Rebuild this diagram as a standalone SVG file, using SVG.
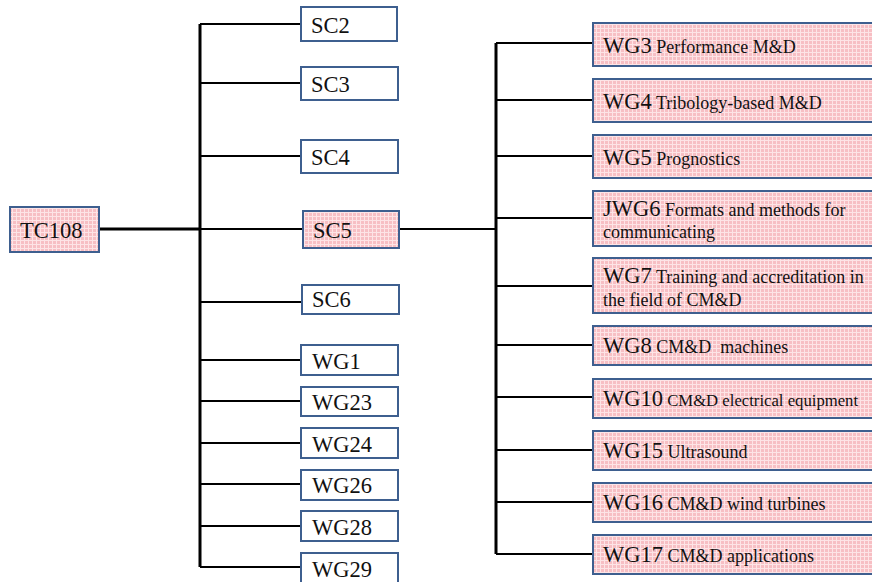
<svg xmlns="http://www.w3.org/2000/svg" width="872" height="582" viewBox="0 0 872 582">
<defs>
<pattern id="grid" width="4" height="4" patternUnits="userSpaceOnUse">
<rect width="4" height="4" fill="#f7bfc4"/>
<path d="M0 0.5H4M0.5 0V4" stroke="#fde4e6" stroke-width="1"/>
</pattern>
</defs>
<style>
.pk{fill:url(#grid);stroke:#3e5f8f;stroke-width:2}
.wh{fill:#fff;stroke:#3e5f8f;stroke-width:2}
.t{font-family:"Liberation Serif","Times New Roman",serif;fill:#111}
.b{font-size:22.5px}
.s{font-size:18px}
.c{stroke:#000;fill:none;stroke-width:2}
.k{stroke:#000;fill:none;stroke-width:3}
</style>
<g id="connectors">
<path class="k" d="M99 229H200"/>
<path class="k" d="M200 24V567"/>
<path class="c" d="M200 24H301M200 83H301M200 156H301M200 229H303M200 302H302M200 360H301M200 401H301M200 443H301M200 484H301M200 526H301M200 567H301"/>
<path class="c" d="M400 229H497"/>
<path class="k" d="M496 43V554"/>
<path class="c" d="M496 43H593M496 100H593M496 156H593M496 218H593M496 286H593M496 345H593M496 397H593M496 450H593M496 502H593M496 554H593"/>
</g>
<g id="TC108"><rect class="pk" x="10" y="207" width="89" height="45"/><text class="t b" x="20" y="238">TC108</text></g>
<g id="SC2"><rect class="wh" x="301" y="7" width="96" height="34"/><text class="t b" x="311" y="33">SC2</text></g>
<g id="SC3"><rect class="wh" x="301" y="67" width="97" height="33"/><text class="t b" x="311" y="92">SC3</text></g>
<g id="SC4"><rect class="wh" x="301" y="140" width="97" height="33"/><text class="t b" x="311" y="165">SC4</text></g>
<g id="SC5"><rect class="pk" x="303" y="211" width="96" height="37"/><text class="t b" x="313" y="238">SC5</text></g>
<g id="SC6"><rect class="wh" x="302" y="285" width="97" height="29"/><text class="t b" x="312" y="307">SC6</text></g>
<g id="WG1"><rect class="wh" x="301" y="345" width="97" height="30"/><text class="t b" x="312" y="369">WG1</text></g>
<g id="WG23"><rect class="wh" x="301" y="387" width="97" height="29"/><text class="t b" x="312" y="410">WG23</text></g>
<g id="WG24"><rect class="wh" x="301" y="428" width="97" height="30"/><text class="t b" x="312" y="452">WG24</text></g>
<g id="WG26"><rect class="wh" x="301" y="470" width="97" height="30"/><text class="t b" x="312" y="493">WG26</text></g>
<g id="WG28"><rect class="wh" x="301" y="511" width="97" height="30"/><text class="t b" x="312" y="535">WG28</text></g>
<g id="WG29"><rect class="wh" x="301" y="553" width="97" height="32"/><text class="t b" x="312" y="577">WG29</text></g>
<g id="WG3"><rect class="pk" x="593" y="23" width="290" height="43"/><text class="t" x="603" y="53"><tspan class="b">WG3</tspan><tspan class="s"> Performance M&amp;D</tspan></text></g>
<g id="WG4"><rect class="pk" x="593" y="79" width="290" height="43"/><text class="t" x="603" y="109"><tspan class="b">WG4</tspan><tspan class="s"> Tribology-based M&amp;D</tspan></text></g>
<g id="WG5"><rect class="pk" x="593" y="135" width="290" height="43"/><text class="t" x="603" y="165"><tspan class="b">WG5</tspan><tspan class="s"> Prognostics</tspan></text></g>
<g id="JWG6"><rect class="pk" x="593" y="191" width="290" height="55"/><text class="t" x="603" y="216"><tspan class="b">JWG6</tspan><tspan class="s"> Formats and methods for</tspan></text><text class="t s" x="603" y="238">communicating</text></g>
<g id="WG7"><rect class="pk" x="593" y="258" width="290" height="55"/><text class="t" x="603" y="283"><tspan class="b">WG7</tspan><tspan class="s"> Training and accreditation in</tspan></text><text class="t s" x="603" y="306">the field of CM&amp;D</text></g>
<g id="WG8"><rect class="pk" x="593" y="326" width="290" height="39"/><text class="t" x="603" y="353"><tspan class="b">WG8</tspan><tspan class="s"> CM&amp;D&#160; machines</tspan></text></g>
<g id="WG10"><rect class="pk" x="593" y="379" width="290" height="39"/><text class="t" x="603" y="406"><tspan class="b">WG10</tspan><tspan class="s" style="font-size:16.7px"> CM&amp;D electrical equipment</tspan></text></g>
<g id="WG15"><rect class="pk" x="593" y="431" width="290" height="39"/><text class="t" x="603" y="458"><tspan class="b">WG15</tspan><tspan class="s"> Ultrasound</tspan></text></g>
<g id="WG16"><rect class="pk" x="593" y="483" width="290" height="39"/><text class="t" x="603" y="510"><tspan class="b">WG16</tspan><tspan class="s"> CM&amp;D wind turbines</tspan></text></g>
<g id="WG17"><rect class="pk" x="593" y="535" width="290" height="39"/><text class="t" x="603" y="562"><tspan class="b">WG17</tspan><tspan class="s"> CM&amp;D applications</tspan></text></g>
</svg>
